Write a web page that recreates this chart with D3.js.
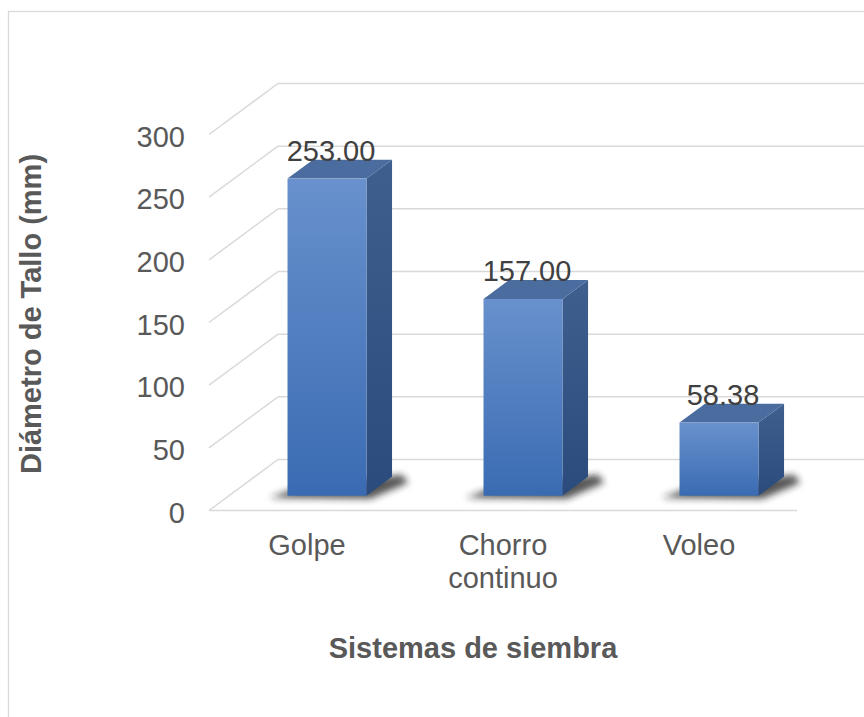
<!DOCTYPE html>
<html><head><meta charset="utf-8">
<script src="https://cdn.jsdelivr.net/npm/d3@7"></script>
<style>body{margin:0;background:#fff} text{font-family:"Liberation Sans",Arial,sans-serif}</style>
</head><body><svg id="c" width="864" height="717"></svg>
<script>
const categories = ["Golpe", "Chorro continuo", "Voleo"];
const categoryLines = [["Golpe"], ["Chorro", "continuo"], ["Voleo"]];
const values = [253.00, 157.00, 58.38];
const valueLabels = ["253.00", "157.00", "58.38"];
const yTicks = [0, 50, 100, 150, 200, 250, 300];
const yTitle = "Diámetro de Tallo (mm)";
const xTitle = "Sistemas de siembra";

const svg = d3.select("#c");
const W = 864, H = 717;
svg.append("rect").attr("width", W).attr("height", H).attr("fill", "#fff");
// chart border
svg.append("rect").attr("x", 8.5).attr("y", 11.5).attr("width", 880).attr("height", 720)
  .attr("fill", "none").attr("stroke", "#d9d9d9").attr("stroke-width", 1.3);

const DX = 69, DY = 51; // depth vector front->back
const y = d3.scaleLinear().domain([0, 300]).range([459.5, 83.5]); // back wall
const x = d3.scaleBand().domain(categories).range([209, 797]).padding(0);
const faceW = 79, fFront = 0.29, fBack = 0.66;

const defs = svg.append("defs");
const gF = defs.append("linearGradient").attr("id", "gF").attr("x1", 0).attr("y1", 0).attr("x2", 0).attr("y2", 1);
gF.append("stop").attr("offset", 0).attr("stop-color", "#6891cd");
gF.append("stop").attr("offset", 1).attr("stop-color", "#3a6bb2");
const gS = defs.append("linearGradient").attr("id", "gS").attr("x1", 0).attr("y1", 0).attr("x2", 0).attr("y2", 1);
gS.append("stop").attr("offset", 0).attr("stop-color", "#3f5f8f");
gS.append("stop").attr("offset", 1).attr("stop-color", "#2a4b7c");
const blur = defs.append("filter").attr("id", "blur").attr("x", "-50%").attr("y", "-50%").attr("width", "200%").attr("height", "200%");
blur.append("feGaussianBlur").attr("stdDeviation", 3.5);

const grid = "#d9d9d9";
const g = svg.append("g");
// back wall gridlines + side wall diagonals
yTicks.forEach(t => {
  const yb = y(t);
  g.append("line").attr("x1", 209 + DX).attr("x2", 864).attr("y1", yb).attr("y2", yb)
    .attr("stroke", grid).attr("stroke-width", 1.5);
  g.append("line").attr("x1", 209).attr("y1", yb + DY).attr("x2", 209 + DX).attr("y2", yb)
    .attr("stroke", grid).attr("stroke-width", 1.5);
});
// floor front edge
g.append("line").attr("x1", 209).attr("x2", 797).attr("y1", y(0) + DY).attr("y2", y(0) + DY)
  .attr("stroke", grid).attr("stroke-width", 1.5);

// tick labels
svg.selectAll(".tick").data(yTicks).enter().append("text")
  .attr("x", 185).attr("y", d => y(d) + DY + 2).attr("text-anchor", "end")
  .attr("dominant-baseline", "central").attr("font-size", 29).attr("fill", "#595959")
  .text(d => d);

// bars
const bars = svg.selectAll(".bar").data(categories).enter().append("g");
bars.each(function (c, i) {
  const gg = d3.select(this);
  const v = values[i];
  const band = x(c);
  const x0 = band + fFront * DX + (x.bandwidth() - faceW) / 2;
  const x1 = x0 + faceW;
  const yb = y(0) + DY - fFront * DY; // front bottom
  const yt = yb - (y(0) - y(v));
  const ddx = (fBack - fFront) * DX, ddy = (fBack - fFront) * DY;
  // shadow
  gg.append("path").attr("d", `M${x0 - 18},${yb + 2} L${x1 + 4},${yb + 3} L${x1 + ddx + 16},${yb - ddy + 6} L${x1 + ddx + 10},${yb - ddy - 2} L${x0 + 10},${yb - 8} Z`)
    .attr("fill", "#1a1a1a").attr("opacity", 0.75).attr("filter", "url(#blur)");
  // side face
  gg.append("path").attr("d", `M${x1},${yt} L${x1 + ddx},${yt - ddy} L${x1 + ddx},${yb - ddy} L${x1},${yb} Z`)
    .attr("fill", "url(#gS)");
  // top face
  gg.append("path").attr("d", `M${x0},${yt} L${x0 + ddx},${yt - ddy} L${x1 + ddx},${yt - ddy} L${x1},${yt} Z`)
    .attr("fill", "#4b6c9e");
  // front face
  gg.append("rect").attr("x", x0).attr("y", yt).attr("width", faceW).attr("height", yb - yt)
    .attr("fill", "url(#gF)");
  // value label
  gg.append("text").attr("x", (x0 + x1) / 2 + 4).attr("y", yt - ddy + 1)
    .attr("text-anchor", "middle").attr("font-size", 29).attr("fill", "#404040")
    .text(valueLabels[i]);
});

// category labels
categories.forEach((c, i) => {
  const t = svg.append("text").attr("text-anchor", "middle").attr("font-size", 29).attr("fill", "#595959");
  categoryLines[i].forEach((ln, k) => {
    t.append("tspan").attr("x", x(c) + x.bandwidth() / 2).attr("y", 555 + k * 33).text(ln);
  });
});

// axis titles
svg.append("text").attr("x", 473).attr("y", 658).attr("text-anchor", "middle")
  .attr("font-size", 29).attr("font-weight", "bold").attr("fill", "#595959").text(xTitle);
svg.append("text").attr("transform", "translate(31,314) rotate(-90)").attr("text-anchor", "middle")
  .attr("dominant-baseline", "central")
  .attr("font-size", 29).attr("font-weight", "bold").attr("fill", "#595959").text(yTitle);
</script></body></html>
